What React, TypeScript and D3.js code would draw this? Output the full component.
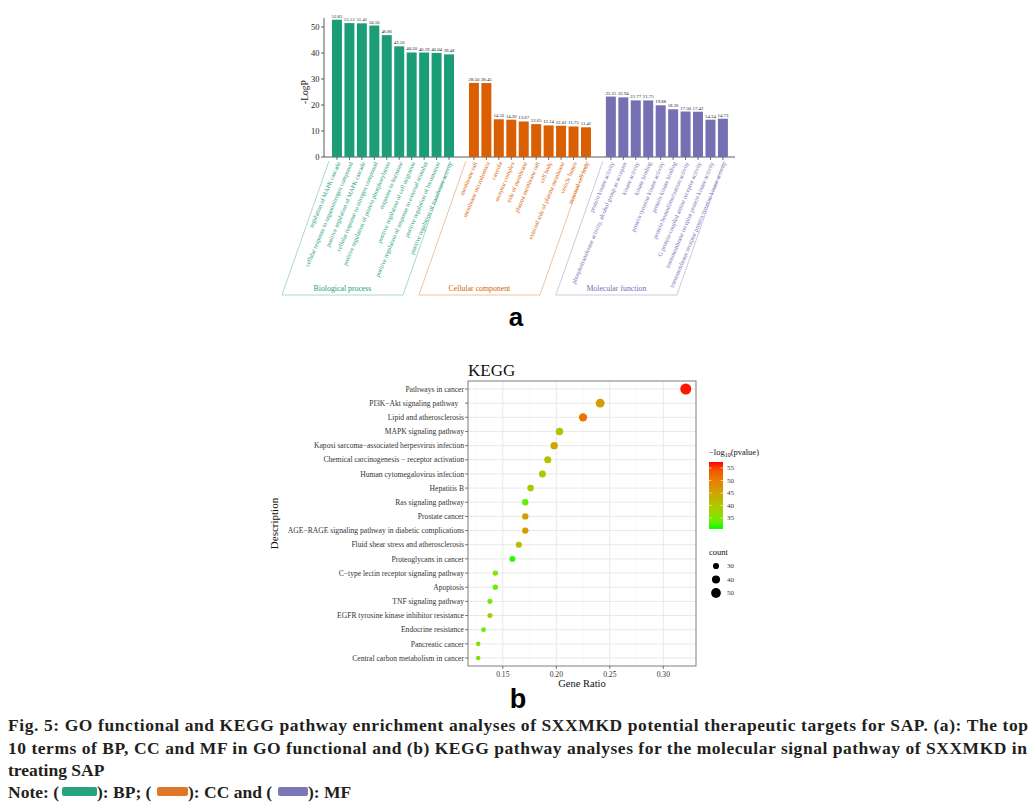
import React from 'react';
import * as d3 from 'd3';

// ---------- GO data ----------
const bpTerms = [
  'regulation of MAPK cascade',
  'cellular response to organonitrogen compound',
  'positive regulation of MAPK cascade',
  'cellular response to nitrogen compound',
  'positive regulation of protein phosphorylation',
  'response to hormone',
  'positive regulation of cell migration',
  'positive regulation of response to external stimulus',
  'positive regulation of locomotion',
  'positive regulation of transferase activity',
];
const bpValues = [52.81, 51.51, 51.41, 50.56, 46.86, 42.56, 40.2, 40.19, 40.04, 39.48];
const ccTerms = [
  'membrane raft',
  'membrane microdomain',
  'caveola',
  'receptor complex',
  'side of membrane',
  'plasma membrane raft',
  'cell body',
  'external side of plasma membrane',
  'vesicle lumen',
  'neuronal cell body',
];
const ccValues = [28.5, 28.45, 14.52, 14.36, 13.67, 12.65, 12.14, 12.01, 11.75, 11.41];
const mfTerms = [
  'protein kinase activity',
  'phosphotransferase activity, alcohol group as acceptor',
  'kinase activity',
  'kinase binding',
  'protein tyrosine kinase activity',
  'protein kinase binding',
  'protein homodimerization activity',
  'G protein-coupled amine receptor activity',
  'transmembrane receptor protein kinase activity',
  'transmembrane receptor protein tyrosine kinase activity',
];
const mfValues = [23.25, 22.94, 21.77, 21.75, 19.88, 18.36, 17.5, 17.42, 14.34, 14.73];
const groupNames = ['Biological process', 'Cellular component', 'Molecular function'];
const groupColors = ['#1B9E77', '#D95F02', '#7570B3'];
const goTicks = [0, 10, 20, 30, 40, 50];

// ---------- KEGG data ----------
const keggTerms = [
  'Pathways in cancer',
  'PI3K\u2212Akt signaling pathway   ',
  'Lipid and atherosclerosis',
  'MAPK signaling pathway',
  'Kaposi sarcoma\u2212associated herpesvirus infection',
  'Chemical carcinogenesis \u2212 receptor activation',
  'Human cytomegalovirus infection',
  'Hepatitis B',
  'Ras signaling pathway',
  'Prostate cancer',
  'AGE\u2212RAGE signaling pathway in diabetic complications',
  'Fluid shear stress and atherosclerosis',
  'Proteoglycans in cancer',
  'C\u2212type lectin receptor signaling pathway',
  'Apoptosis',
  'TNF signaling pathway',
  'EGFR tyrosine kinase inhibitor resistance',
  'Endocrine resistance',
  'Pancreatic cancer',
  'Central carbon metabolism in cancer',
];
const keggRatio = [0.321, 0.241, 0.225, 0.203, 0.198, 0.192, 0.187, 0.176, 0.171, 0.171, 0.171, 0.165, 0.159, 0.143, 0.143, 0.138, 0.138, 0.132, 0.127, 0.127];
const keggCount = [58, 44, 41, 37, 36, 35, 34, 32, 31, 31, 31, 30, 29, 26, 26, 25, 25, 24, 23, 23];
const keggLogP = [57, 46, 51, 40, 45, 41, 40, 40, 33, 46, 46, 41, 31, 35, 33, 34, 39, 34, 35, 36];
const ratioTicks = [0.15, 0.2, 0.25, 0.3];
const ratioMinor = [0.125, 0.175, 0.225, 0.275, 0.325];
const logPTicks = [35, 40, 45, 50, 55];
const countTicks = [30, 40, 50];

const SERIF = "'Liberation Serif', 'Times New Roman', serif";
const SANS = "'Liberation Sans', Arial, sans-serif";

function GoChart() {
  const groups = [
    { terms: bpTerms, values: bpValues },
    { terms: ccTerms, values: ccValues },
    { terms: mfTerms, values: mfValues },
  ];
  const keys: string[] = [];
  groups.forEach((g, gi) => {
    g.terms.forEach((_, i) => keys.push(`g${gi}-${i}`));
    if (gi < 2) keys.push(`gap${gi}`);
  });
  const x = d3.scaleBand<string>().domain(keys).range([332, 727.9]).paddingInner(0.2).paddingOuter(0);
  const y = d3.scaleLinear().domain([0, 50]).range([157, 27]);
  const yTop = y(53.5);
  const bw = x.bandwidth();
  return (
    <g>
      <line x1={324} x2={324} y1={y(0)} y2={yTop} stroke="#333" strokeWidth={0.8} />
      <line x1={324} x2={735} y1={y(0)} y2={y(0)} stroke="#333" strokeWidth={0.8} />
      {goTicks.map((t) => (
        <g key={t}>
          <line x1={321} x2={324} y1={y(t)} y2={y(t)} stroke="#333" strokeWidth={0.8} />
          <text x={319.5} y={y(t)} dy="0.35em" textAnchor="end" fontSize={8.5} fontFamily={SERIF} fill="#222">{t}</text>
        </g>
      ))}
      <text transform={`translate(308,${y(25)}) rotate(-90)`} textAnchor="middle" fontSize={9.5} fontFamily={SERIF} fill="#222">-LogP</text>
      {groups.map((g, gi) => {
        const first = x(`g${gi}-0`)!;
        const last = x(`g${gi}-9`)! + bw;
        const topY = 161;
        const botY = 295;
        const off = 47;
        const tl = first - 3;
        const tr = last - 4;
        return (
          <g key={gi}>
            {g.values.map((v, i) => {
              const bx = x(`g${gi}-${i}`)!;
              return (
                <g key={i}>
                  <rect x={bx} y={y(v)} width={bw} height={y(0) - y(v)} fill={groupColors[gi]} />
                  <text x={bx + bw / 2} y={y(v) - 2} textAnchor="middle" fontSize={4.8} fontFamily={SERIF} fill="#222">{v.toFixed(2)}</text>
                  <line x1={bx + bw / 2} x2={bx + bw / 2} y1={y(0)} y2={y(0) + 3} stroke="#333" strokeWidth={0.7} />
                  <text transform={`translate(${bx + bw / 2 + 1.5},${y(0) + 5}) rotate(-67)`} textAnchor="end" dy="0.35em" fontSize={6.1} fontFamily={SERIF} fill={groupColors[gi]}>{g.terms[i]}</text>
                </g>
              );
            })}
            <path d={`M${tl},${topY} L${tl - off},${botY} L${tr - off},${botY} L${tr},${topY}`} fill="none" stroke={groupColors[gi]} strokeOpacity={0.55} strokeWidth={0.7} />
            <text x={(tl + tr) / 2 - off} y={291} textAnchor="middle" fontSize={7.8} fontFamily={SERIF} fill={groupColors[gi]}>{groupNames[gi]}</text>
          </g>
        );
      })}
      <text x={516} y={326} textAnchor="middle" fontSize={26} fontWeight="bold" fontFamily={SANS} fill="#000">a</text>
    </g>
  );
}

function KeggChart() {
  const left = 468, right = 696, top = 381, bottom = 666;
  const x = d3.scaleLinear().domain([0.15, 0.3]).range([502.8, 663.3]);
  const y = d3.scalePoint<string>().domain(keggTerms).range([389, 658]);
  const color = d3.scaleLinear<string>().domain([30.6, 57.4]).range(['#00ff00', '#ff0000']).interpolate(d3.interpolateLab);
  const r = d3.scaleSqrt().domain([23, 58]).range([2.3, 5.5]);
  const legTop = 462, legBot = 529;
  const ly = d3.scaleLinear().domain([30.6, 57.4]).range([legBot, legTop]);
  const stops = d3.range(0, 1.0001, 0.1);
  return (
    <g>
      <defs>
        <linearGradient id="kgrad" x1="0" y1="1" x2="0" y2="0">
          {stops.map((s) => (
            <stop key={s} offset={s} stopColor={color(30.6 + s * (57.4 - 30.6))} />
          ))}
        </linearGradient>
      </defs>
      <text x={468} y={376} fontSize={17} fontFamily={SERIF} fill="#111">KEGG</text>
      <rect x={left} y={top} width={right - left} height={bottom - top} fill="#fff" />
      {ratioMinor.map((t) => (
        x(t) > left && x(t) < right ? <line key={t} x1={x(t)} x2={x(t)} y1={top} y2={bottom} stroke="#f3f3f3" strokeWidth={0.6} /> : null
      ))}
      {ratioTicks.map((t) => (
        <line key={t} x1={x(t)} x2={x(t)} y1={top} y2={bottom} stroke="#e6e6e6" strokeWidth={0.9} />
      ))}
      {keggTerms.map((t) => (
        <line key={t} x1={left} x2={right} y1={y(t)} y2={y(t)} stroke="#e6e6e6" strokeWidth={0.9} />
      ))}
      {keggTerms.map((t, i) => (
        <circle key={t} cx={x(keggRatio[i])} cy={y(t)} r={r(keggCount[i])} fill={color(keggLogP[i])} />
      ))}
      <rect x={left} y={top} width={right - left} height={bottom - top} fill="none" stroke="#7f7f7f" strokeWidth={1} />
      {keggTerms.map((t) => (
        <g key={t}>
          <line x1={left - 3} x2={left} y1={y(t)} y2={y(t)} stroke="#444" strokeWidth={0.7} />
          <text x={left - 4} y={y(t)} dy="0.35em" textAnchor="end" fontSize={7.6} fontFamily={SERIF} fill="#333" style={{ whiteSpace: 'pre' }}>{t}</text>
        </g>
      ))}
      {ratioTicks.map((t) => (
        <g key={t}>
          <line x1={x(t)} x2={x(t)} y1={bottom} y2={bottom + 3} stroke="#444" strokeWidth={0.7} />
          <text x={x(t)} y={bottom + 10.5} textAnchor="middle" fontSize={7.6} fontFamily={SERIF} fill="#333">{t.toFixed(2)}</text>
        </g>
      ))}
      <text x={(left + right) / 2} y={687} textAnchor="middle" fontSize={10.5} fontFamily={SERIF} fill="#111">Gene Ratio</text>
      <text transform={`translate(278,${(top + bottom) / 2}) rotate(-90)`} textAnchor="middle" fontSize={11} fontFamily={SERIF} fill="#111">Description</text>
      <text x={709} y={455} fontSize={8.5} fontFamily={SERIF} fill="#111">{'\u2212log'}<tspan fontSize={6} dy={2}>10</tspan><tspan dy={-2}>(pvalue)</tspan></text>
      <rect x={709} y={legTop} width={14} height={legBot - legTop} fill="url(#kgrad)" />
      {logPTicks.map((t) => (
        <g key={t}>
          <line x1={709} x2={711.5} y1={ly(t)} y2={ly(t)} stroke="#fff" strokeWidth={0.6} />
          <line x1={720.5} x2={723} y1={ly(t)} y2={ly(t)} stroke="#fff" strokeWidth={0.6} />
          <text x={727} y={ly(t)} dy="0.35em" fontSize={7} fontFamily={SERIF} fill="#333">{t}</text>
        </g>
      ))}
      <text x={709} y={555} fontSize={8.5} fontFamily={SERIF} fill="#111">count</text>
      {countTicks.map((c, i) => (
        <g key={c}>
          <circle cx={716} cy={566 + i * 13.5} r={r(c)} fill="#000" />
          <text x={727} y={566 + i * 13.5} dy="0.35em" fontSize={7} fontFamily={SERIF} fill="#333">{c}</text>
        </g>
      ))}
      <text x={518} y={708} textAnchor="middle" fontSize={27} fontWeight="bold" fontFamily={SANS} fill="#000">b</text>
    </g>
  );
}

function Caption() {
  const fs = 17.5;
  const col = '#231f20';
  const line1 = 'Fig. 5: GO functional and KEGG pathway enrichment analyses of SXXMKD potential therapeutic targets for SAP. (a): The top';
  const line2 = '10 terms of BP, CC and MF in GO functional and (b) KEGG pathway analyses for the molecular signal pathway of SXXMKD in';
  return (
    <g fontFamily={SERIF} fontWeight="bold" fontSize={fs} fill={col}>
      <text x={8} y={731} textLength={1020} lengthAdjust="spacing">{line1}</text>
      <text x={8} y={754} textLength={1019} lengthAdjust="spacing">{line2}</text>
      <text x={8} y={776}>treating SAP</text>
      <text x={8} y={798}>Note: (</text>
      <rect x={62} y={787} width={35} height={9} rx={2} fill={groupColors[0]} opacity={0.95} />
      <text x={97} y={798}>): BP; (</text>
      <rect x={157} y={787} width={31} height={9} rx={2} fill={groupColors[1]} opacity={0.85} />
      <text x={188} y={798}>): CC and (</text>
      <rect x={278} y={787} width={30} height={9} rx={2} fill={groupColors[2]} opacity={0.95} />
      <text x={308} y={798}>): MF</text>
    </g>
  );
}

export default function App() {
  return (
    <svg width={1033} height={806} style={{ position: 'absolute', left: 0, top: 0, background: '#fff' }}>
      <rect width={1033} height={806} fill="#fff" />
      <GoChart />
      <KeggChart />
      <Caption />
    </svg>
  );
}
